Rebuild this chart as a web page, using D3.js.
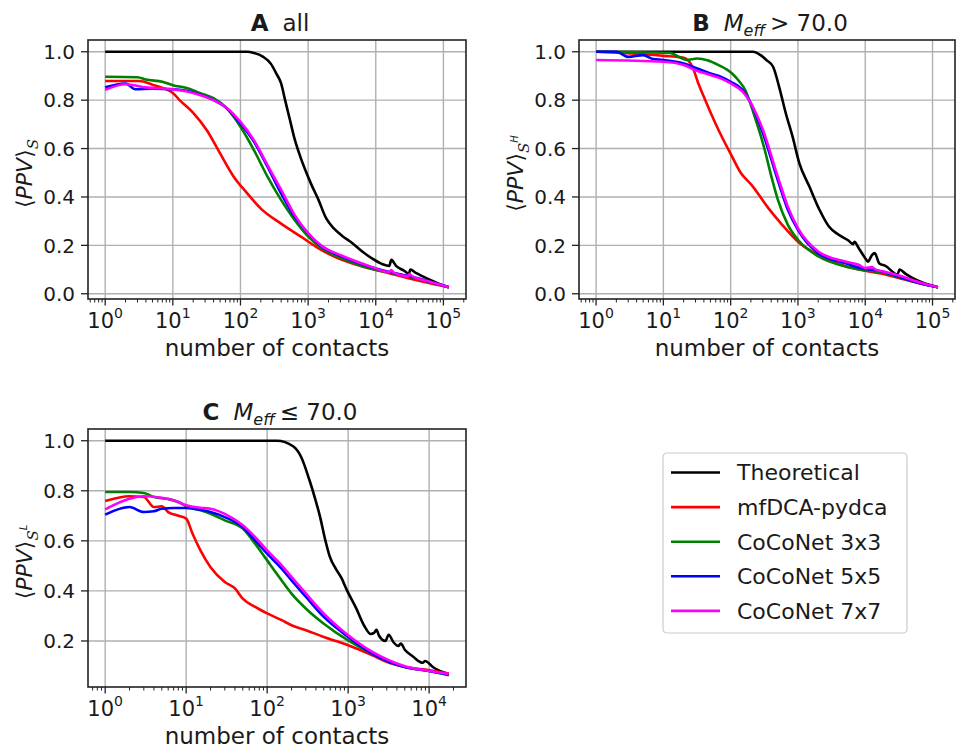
<!DOCTYPE html>
<html>
<head>
<meta charset="utf-8">
<script src="https://cdnjs.cloudflare.com/ajax/libs/d3/7.8.5/d3.min.js"></script>
<style>
	body { margin: 0; background: #fff; }
	svg text { font-family: "DejaVu Sans", sans-serif; fill: #1a1a1a; }
</style>
</head>
<body>
<svg id="chart" width="956" height="750"></svg>
<script>
// number of contacts vs <PPV>: [contacts, ppv]
var theoA = [[1,1],[126,1],[158,0.995],[214,0.98],[282,0.95],[339,0.91],[398,0.87],[457,0.8],[537,0.72],[631,0.64],[759,0.57],[912,0.51],[1122,0.45],[1413,0.39],[1862,0.31],[2399,0.27],[3162,0.24],[4467,0.21],[6310,0.175],[8913,0.145],[12589,0.122],[15849,0.115],[16982,0.14],[19953,0.115],[26303,0.095],[30903,0.082],[32359,0.1],[39811,0.085],[60256,0.06],[85114,0.042],[120226,0.027]];
var pydcaA = [[1,0.879],[3.2,0.879],[5,0.864],[8,0.845],[10,0.83],[12.6,0.8],[20,0.748],[32,0.675],[50,0.58],[79,0.485],[126,0.415],[200,0.352],[398,0.29],[794,0.235],[1585,0.18],[3162,0.14],[7943,0.105],[15849,0.085],[25119,0.07],[50119,0.05],[120226,0.027]];
var coco3A = [[1,0.897],[3,0.895],[4,0.885],[7,0.876],[10,0.862],[16,0.85],[25,0.83],[40,0.808],[63,0.766],[100,0.69],[158,0.594],[251,0.484],[398,0.388],[631,0.305],[1000,0.237],[1585,0.188],[3162,0.147],[7943,0.106],[15849,0.088],[31623,0.07],[63096,0.048],[120226,0.027]];
var coco5A = [[1,0.853],[2,0.869],[2.8,0.845],[5,0.847],[10,0.845],[25,0.824],[40,0.8],[63,0.766],[100,0.704],[158,0.629],[251,0.525],[398,0.415],[631,0.319],[1000,0.25],[1585,0.195],[3162,0.154],[7943,0.113],[15849,0.09],[31623,0.072],[63096,0.05],[120226,0.027]];
var coco7A = [[1,0.843],[2,0.866],[4,0.853],[10,0.845],[20,0.83],[40,0.8],[63,0.768],[100,0.71],[158,0.635],[251,0.532],[398,0.43],[631,0.326],[1000,0.25],[1585,0.198],[3162,0.157],[7943,0.115],[15849,0.09],[16982,0.098],[18197,0.088],[30200,0.072],[31623,0.082],[33884,0.074],[63096,0.05],[120226,0.027]];

var theoB = [[1,1],[214,1],[282,0.985],[339,0.966],[427,0.938],[525,0.855],[661,0.745],[832,0.649],[1047,0.54],[1479,0.443],[2089,0.347],[2884,0.278],[3981,0.245],[5623,0.22],[6607,0.205],[6918,0.215],[7943,0.19],[10000,0.147],[10965,0.133],[12589,0.16],[13804,0.168],[16218,0.125],[19953,0.115],[30200,0.08],[32359,0.1],[39811,0.082],[56234,0.058],[120226,0.027]];
var pydcaB = [[1,1],[10,0.983],[20,0.975],[27,0.938],[33,0.87],[42,0.8],[52,0.74],[66,0.677],[105,0.567],[141,0.5],[204,0.45],[363,0.354],[562,0.29],[1000,0.215],[1995,0.16],[5012,0.115],[10000,0.095],[19953,0.08],[31623,0.065],[63096,0.043],[120226,0.027]];
var coco3B = [[1,1],[12.6,0.995],[18,0.975],[22,0.966],[32,0.972],[45,0.965],[66,0.945],[105,0.91],[132,0.88],[166,0.84],[200,0.78],[229,0.73],[282,0.65],[324,0.59],[398,0.49],[501,0.39],[708,0.285],[1000,0.223],[1995,0.155],[5012,0.113],[10000,0.097],[19953,0.085],[31623,0.068],[63096,0.045],[120226,0.027]];
var coco5B = [[1,1],[2,1],[3,0.979],[5,0.986],[7,0.97],[10,0.966],[20,0.952],[32,0.931],[50,0.91],[71,0.897],[100,0.876],[151,0.842],[200,0.787],[302,0.663],[501,0.47],[708,0.347],[1000,0.264],[1995,0.168],[5012,0.127],[10000,0.102],[14125,0.098],[19953,0.088],[31623,0.07],[63096,0.045],[120226,0.027]];
var coco7B = [[1,0.966],[10,0.959],[20,0.945],[30,0.924],[50,0.904],[71,0.89],[100,0.869],[151,0.835],[200,0.787],[302,0.677],[501,0.484],[708,0.36],[1000,0.271],[1995,0.175],[5012,0.133],[7943,0.12],[10000,0.106],[12589,0.11],[14125,0.1],[19953,0.09],[31623,0.075],[63096,0.048],[120226,0.027]];

var theoC = [[1,1],[132,1],[209,0.978],[263,0.935],[331,0.845],[398,0.76],[447,0.7],[525,0.6],[589,0.54],[708,0.487],[832,0.45],[955,0.406],[1259,0.33],[1585,0.26],[1905,0.228],[2089,0.232],[2239,0.245],[2399,0.222],[2884,0.2],[3162,0.225],[3631,0.195],[4169,0.18],[4467,0.19],[5012,0.165],[6310,0.138],[8318,0.113],[8913,0.12],[11220,0.095],[17500,0.067]];
var pydcaC = [[1,0.759],[2,0.778],[3,0.775],[4,0.735],[5,0.738],[6,0.715],[8,0.7],[10,0.689],[12,0.628],[15,0.562],[20,0.495],[30,0.436],[40,0.41],[50,0.369],[71,0.336],[100,0.31],[151,0.283],[200,0.263],[302,0.243],[501,0.216],[1000,0.183],[1995,0.143],[3020,0.116],[5012,0.096],[10000,0.083],[17500,0.07]];
var coco3C = [[1,0.795],[2,0.795],[3,0.791],[4,0.775],[6,0.767],[8,0.755],[10,0.738],[15,0.722],[20,0.708],[30,0.682],[50,0.649],[71,0.589],[100,0.522],[151,0.442],[200,0.389],[302,0.329],[501,0.269],[1000,0.202],[1995,0.149],[5012,0.096],[10000,0.08],[17500,0.063]];
var coco5C = [[1,0.705],[2,0.735],[3,0.715],[4,0.718],[5,0.728],[7,0.731],[10,0.731],[15,0.724],[20,0.715],[30,0.695],[50,0.655],[71,0.602],[100,0.549],[151,0.489],[200,0.442],[302,0.376],[501,0.296],[1000,0.216],[1995,0.149],[5012,0.096],[10000,0.08],[17500,0.065]];
var coco7C = [[1,0.726],[2,0.768],[3,0.778],[5,0.772],[7,0.762],[10,0.742],[15,0.732],[20,0.728],[30,0.708],[50,0.662],[71,0.615],[100,0.562],[151,0.502],[200,0.456],[302,0.389],[501,0.309],[1000,0.223],[1995,0.156],[5012,0.099],[10000,0.08],[17500,0.068]];

var seriesNames = ['Theoretical', 'mfDCA-pydca', 'CoCoNet 3x3', 'CoCoNet 5x5', 'CoCoNet 7x7'];
var seriesColors = ['#000000', '#ff0000', '#008000', '#0000ff', '#ff00ff'];
var yTicksAB = [0, 0.2, 0.4, 0.6, 0.8, 1.0];
var yTicksC = [0.2, 0.4, 0.6, 0.8, 1.0];

var svg = d3.select('#chart');

var panels = [
	{ id: 'A', box: {x: 88, y: 40, w: 378, h: 259}, series: [theoA, pydcaA, coco3A, coco5A, coco7A], yTicks: yTicksAB, title: 'all', sup: null },
	{ id: 'B', box: {x: 579, y: 40, w: 376, h: 259}, series: [theoB, pydcaB, coco3B, coco5B, coco7B], yTicks: yTicksAB, title: '>', sup: 'H' },
	{ id: 'C', box: {x: 88, y: 429, w: 378, h: 258}, series: [theoC, pydcaC, coco3C, coco5C, coco7C], yTicks: yTicksC, title: '\u2264', sup: 'L' }
];

// matplotlib-like 5% margins, log space on x
function paddedDomains(series) {
	var all = d3.merge(series);
	var lx = d3.extent(all, function(d) { return Math.log10(d[0]); });
	var ly = d3.extent(all, function(d) { return d[1]; });
	var mx = (lx[1] - lx[0]) * 0.05, my = (ly[1] - ly[0]) * 0.05;
	return {
		x: [Math.pow(10, lx[0] - mx), Math.pow(10, lx[1] + mx)],
		y: [ly[0] - my, ly[1] + my]
	};
}

function drawPanel(p) {
	var b = p.box;
	var dom = paddedDomains(p.series);
	var x = d3.scaleLog().domain(dom.x).range([b.x, b.x + b.w]);
	var y = d3.scaleLinear().domain(dom.y).range([b.y + b.h, b.y]);
	var g = svg.append('g').attr('class', 'panel-' + p.id);

	var clipId = 'clip-' + p.id;
	g.append('clipPath').attr('id', clipId)
		.append('rect').attr('x', b.x).attr('y', b.y).attr('width', b.w).attr('height', b.h);

	// ===========================================================================================
	// grid
	var decades = d3.range(Math.ceil(Math.log10(dom.x[0])), Math.floor(Math.log10(dom.x[1])) + 1);
	g.selectAll('.xgrid').data(decades).enter().append('line')
		.attr('x1', function(d) { return x(Math.pow(10, d)); })
		.attr('x2', function(d) { return x(Math.pow(10, d)); })
		.attr('y1', b.y).attr('y2', b.y + b.h)
		.attr('stroke', '#b0b0b0').attr('stroke-width', 1.4);
	g.selectAll('.ygrid').data(p.yTicks).enter().append('line')
		.attr('x1', b.x).attr('x2', b.x + b.w)
		.attr('y1', function(d) { return y(d); })
		.attr('y2', function(d) { return y(d); })
		.attr('stroke', '#b0b0b0').attr('stroke-width', 1.4);

	// ===========================================================================================
	// curves
	var line = d3.line()
		.curve(d3.curveMonotoneX)
		.x(function(d) { return x(d[0]); })
		.y(function(d) { return y(d[1]); });
	g.append('g').attr('clip-path', 'url(#' + clipId + ')')
		.selectAll('path').data(p.series).enter().append('path')
		.attr('d', line)
		.attr('fill', 'none')
		.attr('stroke', function(d, i) { return seriesColors[i]; })
		.attr('stroke-width', 2.6)
		.attr('stroke-linejoin', 'round');

	// frame
	g.append('rect')
		.attr('x', b.x).attr('y', b.y).attr('width', b.w).attr('height', b.h)
		.attr('fill', 'none').attr('stroke', '#222').attr('stroke-width', 1.6);

	// ===========================================================================================
	// x ticks (major decades + minor 2..9)
	var minors = [];
	d3.range(Math.floor(Math.log10(dom.x[0])), Math.ceil(Math.log10(dom.x[1]))).forEach(function(d) {
		for (var k = 2; k < 10; k++) {
			var v = k * Math.pow(10, d);
			if (v >= dom.x[0] && v <= dom.x[1]) { minors.push(v); }
		}
	});
	g.selectAll('.xminor').data(minors).enter().append('line')
		.attr('x1', function(d) { return x(d); }).attr('x2', function(d) { return x(d); })
		.attr('y1', b.y + b.h).attr('y2', b.y + b.h + 3.5)
		.attr('stroke', '#222').attr('stroke-width', 1);
	g.selectAll('.xmajor').data(decades).enter().append('line')
		.attr('x1', function(d) { return x(Math.pow(10, d)); })
		.attr('x2', function(d) { return x(Math.pow(10, d)); })
		.attr('y1', b.y + b.h).attr('y2', b.y + b.h + 6.5)
		.attr('stroke', '#222').attr('stroke-width', 1.3);
	var xl = g.selectAll('.xlab').data(decades).enter().append('text')
		.attr('x', function(d) { return x(Math.pow(10, d)); })
		.attr('y', b.y + b.h + 29)
		.attr('text-anchor', 'middle')
		.style('font-size', '21px');
	xl.append('tspan').text('10');
	xl.append('tspan').attr('dy', -10).style('font-size', '14px').text(function(d) { return d; });

	// y ticks
	g.selectAll('.ytick').data(p.yTicks).enter().append('line')
		.attr('x1', b.x - 7).attr('x2', b.x)
		.attr('y1', function(d) { return y(d); }).attr('y2', function(d) { return y(d); })
		.attr('stroke', '#222').attr('stroke-width', 1.3);
	g.selectAll('.ylab').data(p.yTicks).enter().append('text')
		.attr('x', b.x - 13)
		.attr('y', function(d) { return y(d); })
		.attr('dy', '0.36em')
		.attr('text-anchor', 'end')
		.style('font-size', '20px')
		.text(d3.format('.1f'));

	// axis labels
	g.append('text')
		.attr('x', b.x + b.w / 2)
		.attr('y', b.y + b.h + 57)
		.attr('text-anchor', 'middle')
		.style('font-size', '23px')
		.text('number of contacts');

	var yl = g.append('text')
		.attr('transform', 'translate(' + (b.x - 56) + ',' + (b.y + b.h / 2 + 4) + ') rotate(-90)')
		.attr('text-anchor', 'middle')
		.style('font-size', '22px');
	yl.append('tspan').text('\u27E8');
	yl.append('tspan').style('font-style', 'italic').text('PPV');
	yl.append('tspan').text('\u27E9');
	yl.append('tspan').attr('dy', 6).style('font-size', '15px').style('font-style', 'italic')
		.style('font-family', '"DejaVu Serif", serif').text('S');
	if (p.sup) {
		yl.append('tspan').attr('dy', -11).style('font-size', '10px').style('font-style', 'italic').text(p.sup);
	}

	// title
	var t = g.append('text')
		.attr('x', b.x + b.w / 2 + 3)
		.attr('y', b.y - 9)
		.attr('text-anchor', 'middle')
		.style('font-size', '23px');
	t.append('tspan').style('font-weight', 'bold').text(p.id);
	if (p.sup === null) {
		t.append('tspan').attr('dx', 14).text(p.title);
	} else {
		t.append('tspan').attr('dx', 14).style('font-style', 'italic').text('M');
		t.append('tspan').attr('dy', 5).style('font-style', 'italic').style('font-size', '16px').text('eff');
		t.append('tspan').attr('dy', -5).attr('dx', 5).text(p.title + ' 70.0');
	}
}

panels.forEach(drawPanel);

// ===========================================================================================
// legend
var legend = svg.append('g').attr('class', 'legend').attr('transform', 'translate(663, 453)');
legend.append('rect')
	.attr('width', 244).attr('height', 180).attr('rx', 4)
	.attr('fill', '#fff').attr('stroke', '#cccccc').attr('stroke-width', 1.2);
var item = legend.selectAll('.legend-item').data(seriesNames).enter().append('g')
	.attr('class', 'legend-item')
	.attr('transform', function(d, i) { return 'translate(0, ' + (19.5 + i * 34.6) + ')'; });
item.append('line')
	.attr('x1', 8).attr('x2', 57)
	.attr('stroke', function(d, i) { return seriesColors[i]; })
	.attr('stroke-width', 2.6);
item.append('text')
	.attr('x', 74).attr('dy', '0.36em')
	.style('font-size', '22px')
	.text(function(d) { return d; });
</script>
</body>
</html>
